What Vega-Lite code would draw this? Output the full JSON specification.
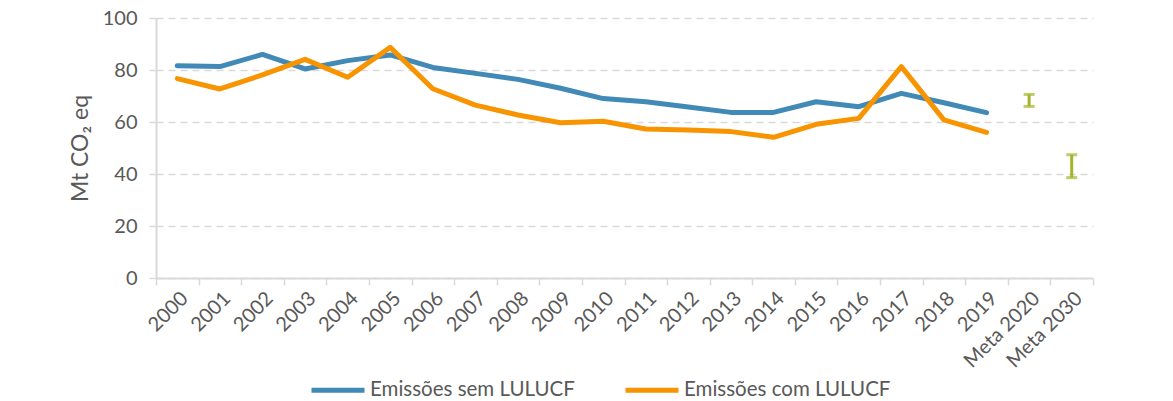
{
  "$schema": "https://vega.github.io/schema/vega-lite/v6.json",
  "width": 937,
  "height": 260,
  "autosize": "none",
  "padding": {"left": 156, "top": 18, "right": 80, "bottom": 123},
  "background": "white",
  "config": {
    "font": "Lato",
    "view": {"stroke": null}
  },
  "datasets": {
    "lines": [
      {"cat": "2000", "series": "Emissões sem LULUCF", "value": 81.6},
      {"cat": "2001", "series": "Emissões sem LULUCF", "value": 81.3},
      {"cat": "2002", "series": "Emissões sem LULUCF", "value": 86.0},
      {"cat": "2003", "series": "Emissões sem LULUCF", "value": 80.4},
      {"cat": "2004", "series": "Emissões sem LULUCF", "value": 83.6},
      {"cat": "2005", "series": "Emissões sem LULUCF", "value": 85.8},
      {"cat": "2006", "series": "Emissões sem LULUCF", "value": 81.0},
      {"cat": "2007", "series": "Emissões sem LULUCF", "value": 78.7},
      {"cat": "2008", "series": "Emissões sem LULUCF", "value": 76.4},
      {"cat": "2009", "series": "Emissões sem LULUCF", "value": 73.0},
      {"cat": "2010", "series": "Emissões sem LULUCF", "value": 69.0},
      {"cat": "2011", "series": "Emissões sem LULUCF", "value": 67.8},
      {"cat": "2012", "series": "Emissões sem LULUCF", "value": 65.8},
      {"cat": "2013", "series": "Emissões sem LULUCF", "value": 63.7},
      {"cat": "2014", "series": "Emissões sem LULUCF", "value": 63.7},
      {"cat": "2015", "series": "Emissões sem LULUCF", "value": 67.8},
      {"cat": "2016", "series": "Emissões sem LULUCF", "value": 65.9},
      {"cat": "2017", "series": "Emissões sem LULUCF", "value": 71.0},
      {"cat": "2018", "series": "Emissões sem LULUCF", "value": 67.4},
      {"cat": "2019", "series": "Emissões sem LULUCF", "value": 63.6},
      {"cat": "2000", "series": "Emissões com LULUCF", "value": 76.7},
      {"cat": "2001", "series": "Emissões com LULUCF", "value": 72.7},
      {"cat": "2002", "series": "Emissões com LULUCF", "value": 78.1},
      {"cat": "2003", "series": "Emissões com LULUCF", "value": 84.1},
      {"cat": "2004", "series": "Emissões com LULUCF", "value": 77.2},
      {"cat": "2005", "series": "Emissões com LULUCF", "value": 88.7},
      {"cat": "2006", "series": "Emissões com LULUCF", "value": 72.8},
      {"cat": "2007", "series": "Emissões com LULUCF", "value": 66.5},
      {"cat": "2008", "series": "Emissões com LULUCF", "value": 62.7},
      {"cat": "2009", "series": "Emissões com LULUCF", "value": 59.7},
      {"cat": "2010", "series": "Emissões com LULUCF", "value": 60.3},
      {"cat": "2011", "series": "Emissões com LULUCF", "value": 57.3},
      {"cat": "2012", "series": "Emissões com LULUCF", "value": 56.9},
      {"cat": "2013", "series": "Emissões com LULUCF", "value": 56.3},
      {"cat": "2014", "series": "Emissões com LULUCF", "value": 54.1},
      {"cat": "2015", "series": "Emissões com LULUCF", "value": 59.1},
      {"cat": "2016", "series": "Emissões com LULUCF", "value": 61.4},
      {"cat": "2017", "series": "Emissões com LULUCF", "value": 81.3},
      {"cat": "2018", "series": "Emissões com LULUCF", "value": 60.8},
      {"cat": "2019", "series": "Emissões com LULUCF", "value": 56.0}
    ],
    "metas": [
      {"cat": "Meta 2020", "low": 66.0, "high": 70.6},
      {"cat": "Meta 2030", "low": 38.6, "high": 47.4}
    ]
  },
  "layer": [
    {
      "data": {"name": "lines"},
      "mark": {"type": "line", "strokeWidth": 5, "strokeCap": "round", "strokeJoin": "round"},
      "encoding": {
        "x": {
          "field": "cat", "type": "ordinal", "bandPosition": 0.5, "title": null,
          "scale": {
            "type": "band",
            "domain": ["2000","2001","2002","2003","2004","2005","2006","2007","2008","2009","2010","2011","2012","2013","2014","2015","2016","2017","2018","2019","Meta 2020","Meta 2030"],
            "paddingInner": 0, "paddingOuter": 0
          },
          "axis": {
            "labelAngle": -45, "labelFontSize": 20, "labelColor": "#595959",
            "tickBand": "extent", "tickSize": 7, "tickColor": "#d9d9d9", "tickWidth": 1.5,
            "domainColor": "#d9d9d9", "domainWidth": 2, "labelPadding": 3, "grid": false
          }
        },
        "y": {
          "field": "value", "type": "quantitative", "title": "Mt CO₂ eq",
          "scale": {"domain": [0, 100]},
          "axis": {
            "values": [0, 20, 40, 60, 80, 100],
            "grid": true, "gridDash": [7, 5], "gridColor": "#d9d9d9", "gridWidth": 1.5,
            "domain": true, "domainColor": "#d9d9d9", "domainWidth": 2,
            "ticks": true, "tickColor": "#d9d9d9", "tickSize": 7, "tickWidth": 1.5,
            "labelFontSize": 20, "labelColor": "#595959", "labelPadding": 12,
            "titleFontSize": 23, "titleFontWeight": "normal", "titleColor": "#595959", "titlePadding": 10
          }
        },
        "color": {
          "field": "series", "type": "nominal",
          "scale": {"domain": ["Emissões sem LULUCF", "Emissões com LULUCF"], "range": ["#4189B6", "#F79400"]},
          "legend": {
            "orient": "none", "legendX": 153, "legendY": 343, "direction": "horizontal",
            "title": null, "symbolType": "stroke", "symbolStrokeWidth": 5, "symbolSize": 2809,
            "labelFontSize": 20.5, "labelColor": "#595959", "labelLimit": 0, "columnPadding": 40, "labelOffset": 3
          }
        }
      }
    },
    {
      "data": {"name": "metas"},
      "mark": {"type": "rule", "color": "#A5B52B", "strokeWidth": 3},
      "encoding": {
        "x": {"field": "cat", "type": "ordinal", "bandPosition": 0.5, "title": null},
        "y": {"field": "low", "type": "quantitative", "title": "Mt CO₂ eq"},
        "y2": {"field": "high"}
      }
    },
    {
      "data": {"name": "metas"},
      "mark": {"type": "tick", "color": "#A5B52B", "thickness": 3, "size": 11},
      "encoding": {
        "x": {"field": "cat", "type": "ordinal", "title": null},
        "y": {"field": "low", "type": "quantitative", "title": "Mt CO₂ eq"}
      }
    },
    {
      "data": {"name": "metas"},
      "mark": {"type": "tick", "color": "#A5B52B", "thickness": 3, "size": 11},
      "encoding": {
        "x": {"field": "cat", "type": "ordinal", "title": null},
        "y": {"field": "high", "type": "quantitative", "title": "Mt CO₂ eq"}
      }
    }
  ]
}
